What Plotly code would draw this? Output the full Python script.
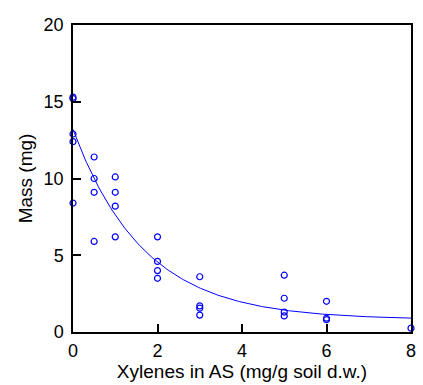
import numpy as np
import plotly.graph_objects as go

# Observed data
x_obs = [0, 0, 0, 0, 0,
         0.5, 0.5, 0.5, 0.5,
         1, 1, 1, 1,
         2, 2, 2, 2,
         3, 3, 3, 3,
         5, 5, 5, 5,
         6, 6, 6,
         8]
y_obs = [15.3, 15.2, 12.9, 12.4, 8.4,
         11.4, 10.0, 9.1, 5.9,
         10.1, 9.1, 8.2, 6.2,
         6.2, 4.6, 4.0, 3.5,
         3.6, 1.7, 1.55, 1.1,
         3.7, 2.2, 1.3, 1.05,
         2.0, 0.9, 0.8,
         0.25]

# Fitted exponential decay model: y = c + a*exp(-b*x)
fit_a = 12.4
fit_b = 0.597
fit_c = 0.8
x_fit = np.linspace(0, 8, 200)
y_fit = fit_c + fit_a * np.exp(-fit_b * x_fit)

x_ticks = [0, 2, 4, 6, 8]
y_ticks = [0, 5, 10, 15, 20]

blue = "rgb(0,0,255)"
font_family = "Liberation Sans, Arial, Helvetica, sans-serif"

fig = go.Figure()
fig.add_trace(go.Scatter(x=x_fit, y=y_fit, mode="lines",
                         line=dict(color=blue, width=1), hoverinfo="skip",
                         showlegend=False))
fig.add_trace(go.Scatter(x=x_obs, y=y_obs, mode="markers",
                         marker=dict(symbol="circle-open", size=6, color=blue,
                                     line=dict(width=1.2, color=blue)),
                         cliponaxis=False, showlegend=False))

axis_common = dict(showgrid=False, zeroline=False, showline=True,
                   linecolor="black", linewidth=1.5, mirror=True,
                   ticks="inside", ticklen=8, tickwidth=1.5, tickcolor="black",
                   automargin=False,
                   tickfont=dict(family=font_family, size=18, color="black"))

fig.update_xaxes(range=[0, 8], tickvals=x_ticks, ticklabelstandoff=2,
                 title=dict(text="Xylenes in AS (mg/g soil d.w.)",
                            font=dict(family=font_family, size=19, color="black"),
                            standoff=3),
                 **axis_common)
fig.update_yaxes(range=[0, 20], tickvals=y_ticks, ticklabelstandoff=4,
                 title=dict(text="Mass (mg)",
                            font=dict(family=font_family, size=19, color="black"),
                            standoff=6),
                 **axis_common)

fig.update_layout(width=423, height=385,
                  margin=dict(l=73, r=12, t=25, b=53),
                  plot_bgcolor="white", paper_bgcolor="white")

fig.write_html("out.html")
